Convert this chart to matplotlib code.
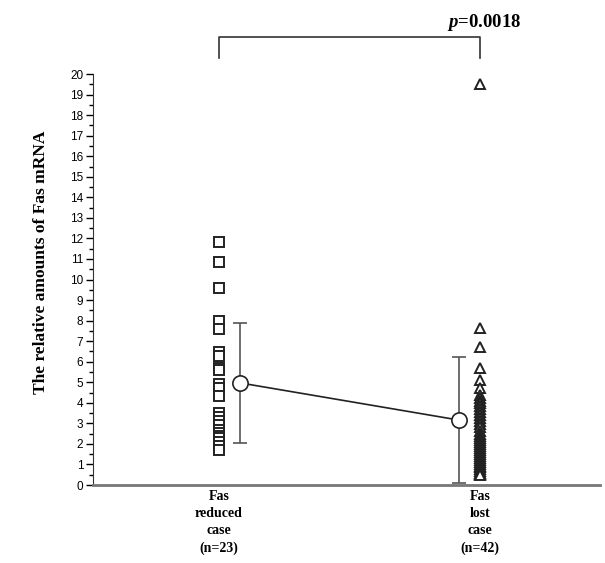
import numpy as np
import matplotlib.pyplot as plt
from matplotlib.ticker import MultipleLocator

plt.rcParams["mathtext.fontset"] = "custom"
plt.rcParams["mathtext.bfit"] = "Liberation Serif:italic:bold"

# values
reduced = [11.85, 10.85, 9.6, 8.0, 7.6, 6.45, 6.3, 5.7, 5.6, 4.9, 4.7, 4.35,
           3.5, 3.3, 3.1, 2.9, 2.7, 2.55, 2.4, 2.3, 2.1, 1.9, 1.7]
lost = [19.5, 7.65, 6.7, 5.7, 5.1, 4.7, 4.4, 4.25, 4.1, 4.0, 3.85, 3.7, 3.55,
        3.4, 3.25, 3.1, 2.95, 2.8, 2.65, 2.5, 2.4, 2.3, 2.2, 2.1, 2.0, 1.9,
        1.8, 1.7, 1.6, 1.5, 1.4, 1.3, 1.2, 1.1, 1.0, 0.95, 0.9, 0.8, 0.7,
        0.6, 0.55, 0.5]
means = [4.97, 3.16]
sds = [2.93, 3.08]
group_labels = ["Fas\nreduced\ncase\n(n=23)", "Fas\nlost\ncase\n(n=42)"]
p_text = r"$\mathbfit{p}$=0.0018"

x_pts = [0.2485, 0.763]
x_mean = [0.29, 0.722]

fig = plt.figure(figsize=(6.05, 5.63), dpi=100)
ax = fig.add_axes([0.1537, 0.1385, 0.838, 0.730])

ax.plot([x_pts[0]] * len(reduced), reduced, "s", ms=7, mfc="white",
        mec="#222222", mew=1.4, ls="none", zorder=3)
ax.plot([x_pts[1]] * len(lost), lost, "^", ms=7, mfc="white",
        mec="#222222", mew=1.4, ls="none", zorder=3)

ax.errorbar(x_mean, means, yerr=sds, fmt="none", ecolor="#555555",
            elinewidth=1.2, capsize=5, capthick=1.2, zorder=2)
ax.plot(x_mean, means, "-", color="#222222", lw=1.2, zorder=2)
ax.plot(x_mean, means, "o", ms=11, mfc="white", mec="#222222", mew=1.2,
        zorder=4)

ax.set_xlim(0, 1)
ax.set_ylim(0, 20)
ax.yaxis.set_major_locator(MultipleLocator(1))
ax.yaxis.set_minor_locator(MultipleLocator(0.5))
ax.tick_params(axis="y", which="major", length=5, width=1, labelsize=8.5,
               pad=2)
ax.tick_params(axis="y", which="minor", length=3, width=1)
ax.set_xticks([])
for lab in ax.get_yticklabels():
    lab.set_family("Liberation Sans")
ax.spines["top"].set_visible(False)
ax.spines["right"].set_visible(False)
ax.spines["left"].set_color("#333333")
ax.spines["bottom"].set_color("#777777")
ax.spines["bottom"].set_linewidth(2)

ax.set_ylabel("The relative amounts of Fas mRNA", family="Liberation Serif",
              fontweight="bold", fontsize=12.5)
ax.yaxis.set_label_coords(-0.087, 0.543)

for xp, lab in zip(x_pts, group_labels):
    ax.text(xp, -0.25, lab, ha="center", va="top", family="Liberation Serif",
            fontweight="bold", fontsize=10, linespacing=1.4)

# significance bracket
ax.plot([x_pts[0], x_pts[0], x_pts[1], x_pts[1]], [20.78, 21.8, 21.8, 20.78],
        color="#333333", lw=1.2, clip_on=False)
ax.text(x_pts[1] - 0.065, 22.0, p_text, ha="left", va="bottom",
        family="Liberation Serif", fontweight="bold", fontsize=13.5)

fig.savefig("out.png", dpi=100)
